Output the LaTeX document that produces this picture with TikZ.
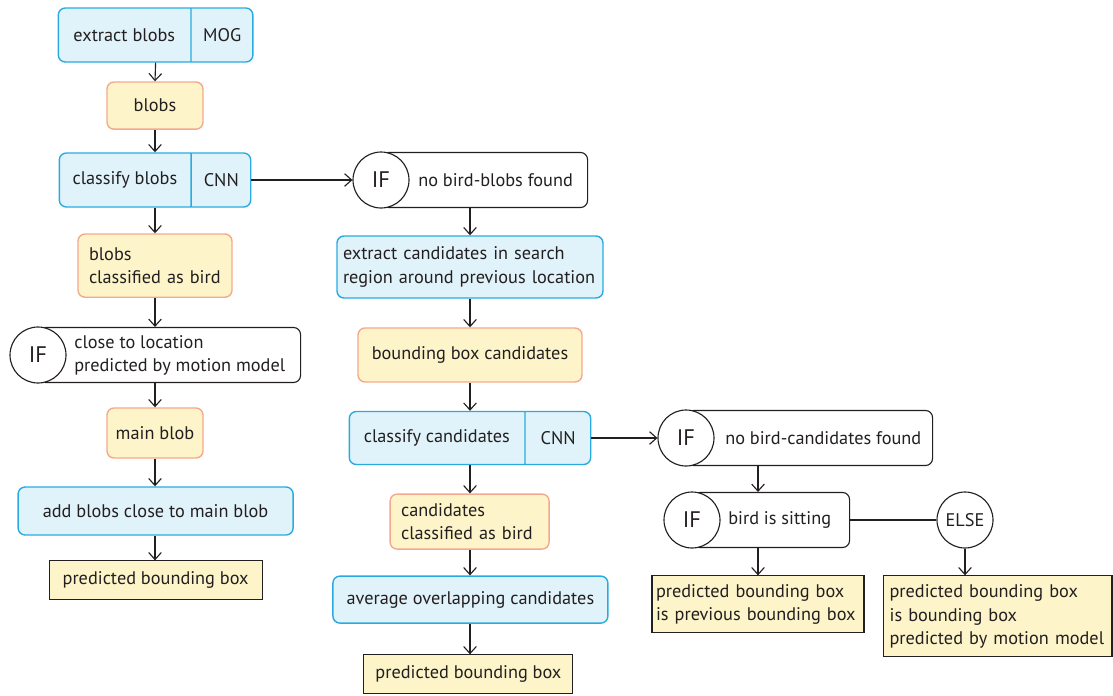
\documentclass[tikz,border=0pt]{standalone}
\usepackage{fontspec}
\setmainfont{PT Sans}
\usetikzlibrary{arrows.meta, shapes.multipart}

\definecolor{boxblue}{HTML}{E1F3FA}
\definecolor{lineblue}{HTML}{29ABE2}
\definecolor{boxyellow}{HTML}{FDF5C9}
\definecolor{linesalmon}{HTML}{F5A98C}
\definecolor{inkgray}{HTML}{231F20}

\begin{document}
\begin{tikzpicture}[font=\fontsize{13}{16.5}\selectfont, text=inkgray]
    % Definizione stili
    \tikzset{
        process/.style={
            rectangle,
            draw=lineblue,
            fill=boxblue,
            rounded corners=5pt,
            line width=1pt
        },
        splitbox/.style={
            process,
            rectangle split,
            rectangle split horizontal,
            rectangle split parts=2,
            inner xsep=0pt,
            minimum height=1.35cm
        },
        data/.style={
            rectangle,
            draw=linesalmon,
            fill=boxyellow,
            rounded corners=5pt,
            line width=1pt
        },
        outcome/.style={
            rectangle,
            draw=inkgray,
            fill=boxyellow,
            line width=0.8pt
        },
        decision/.style={
            circle,
            draw=inkgray,
            fill=white,
            line width=0.8pt,
            minimum size=1.4cm,
            inner sep=0pt,
            font=\fontsize{16}{18}\selectfont
        },
        condbox/.style={
            rectangle,
            draw=inkgray,
            rounded corners=5pt,
            line width=0.8pt,
            minimum height=1.375cm,
            anchor=west
        },
        condtext/.style={anchor=west, align=left, inner sep=0pt, xshift=#1},
        arrow/.style={-{Straight Barb[length=5pt, width=9pt]}, line width=0.8pt, draw=inkgray},
        link/.style={line width=0.8pt, draw=inkgray}
    }

    \useasboundingbox (0,0) rectangle (27.825,-17.375);

    % Colonna sinistra
    \node[splitbox] at (3.89,-0.875) (extract) {
        \makebox[3.3cm]{extract blobs}\nodepart{two}\makebox[1.53cm]{MOG}
    };
    \node[data, minimum width=2.4cm, minimum height=1.18cm] at (3.875,-2.64) (blobs) {blobs};
    \node[splitbox] at (3.875,-4.5) (classblobs) {
        \makebox[3.28cm]{classify blobs}\nodepart{two}\makebox[1.47cm]{CNN}
    };
    \node[data, align=left, text width=3.3cm, inner xsep=0.275cm, minimum height=1.58cm] at (3.875,-6.64) (blobsbird) {
        blobs\\
        classified as bird
    };
    \node[condbox, minimum width=6.55cm,
        label={[condtext=0.9cm]west:{close to location\\predicted by motion model}}] at (0.95,-8.875) (cond1) {};
    \node[decision] at (cond1.west) (if1) {IF};
    \node[data, minimum width=2.4cm, minimum height=1.25cm] at (3.875,-10.825) (mainblob) {main blob};
    \node[process, minimum width=6.875cm, minimum height=1.2cm] at (3.89,-12.775) (addblobs) {add blobs close to main blob};
    \node[outcome, minimum width=5.325cm, minimum height=0.975cm] at (3.89,-14.51) (predleft) {predicted bounding box};

    % Colonna centrale
    \node[condbox, minimum width=5.15cm,
        label={[condtext=0.925cm]west:{no bird-blobs found}}] at (9.525,-4.5) (cond2) {};
    \node[decision] at (cond2.west) (if2) {IF};
    \node[process, align=left, text width=6.35cm, inner xsep=0.15cm, minimum height=1.55cm] at (11.75,-6.675) (extcand) {
        extract candidates in search\\
        region around previous location
    };
    \node[data, minimum width=5.6cm, minimum height=1.35cm] at (11.75,-8.875) (bbcand) {bounding box candidates};
    \node[splitbox, minimum height=1.325cm] at (11.75,-10.95) (classcand) {
        \makebox[4.375cm]{classify candidates}\nodepart{two}\makebox[1.625cm]{CNN}
    };
    \node[data, align=left, text width=3.425cm, inner xsep=0.275cm, minimum height=1.375cm] at (11.74,-13.04) (candbird) {
        candidates\\
        classified as bird
    };
    \node[process, minimum width=6.875cm, minimum height=1.175cm] at (11.76,-14.99) (avgcand) {average overlapping candidates};
    \node[outcome, minimum width=5.225cm, minimum height=0.975cm] at (11.71,-16.86) (predmid) {predicted bounding box};

    % Colonna destra
    \node[condbox, minimum width=6.15cm,
        label={[condtext=0.975cm]west:{no bird-candidates found}}] at (17.15,-10.95) (cond3) {};
    \node[decision] at (cond3.west) (if3) {IF};
    \node[condbox, minimum width=3.925cm,
        label={[condtext=0.9cm]west:{bird is sitting}}] at (17.3,-13.0) (cond4) {};
    \node[decision] at (cond4.west) (if4) {IF};
    \node[decision, font=\fontsize{13}{16}\selectfont] at (24.125,-13.0) (else) {ELSE};
    \node[outcome, align=left, text width=5.1cm, inner xsep=0.1cm, minimum height=1.425cm] at (18.95,-15.11) (predsit) {
        predicted bounding box\\
        is previous bounding box
    };
    \node[outcome, align=left, text width=5.4cm, inner xsep=0.16cm, minimum height=2.025cm] at (24.94,-15.41) (predmotion) {
        predicted bounding box\\
        is bounding box\\
        predicted by motion model
    };

    % Frecce colonna sinistra
    \draw[arrow] (extract.south) -- (blobs.north);
    \draw[arrow] (blobs.south) -- (blobs.south |- classblobs.north);
    \draw[arrow] (blobs.south |- classblobs.south) -- (blobsbird.north);
    \draw[arrow] (blobsbird.south) -- (blobsbird.south |- cond1.north);
    \draw[arrow] (blobsbird.south |- cond1.south) -- (mainblob.north);
    \draw[arrow] (mainblob.south) -- (mainblob.south |- addblobs.north);
    \draw[arrow] (mainblob.south |- addblobs.south) -- (mainblob.south |- predleft.north);

    % Frecce colonna centrale
    \draw[arrow] (classblobs.east) -- (if2.west);
    \draw[arrow] (extcand.north |- cond2.south) -- (extcand.north);
    \draw[arrow] (extcand.south) -- (bbcand.north);
    \draw[arrow] (bbcand.south) -- (bbcand.south |- classcand.north);
    \draw[arrow] (bbcand.south |- classcand.south) -- (bbcand.south |- candbird.north);
    \draw[arrow] (bbcand.south |- candbird.south) -- (bbcand.south |- avgcand.north);
    \draw[arrow] (bbcand.south |- avgcand.south) -- (bbcand.south |- predmid.north);

    % Frecce colonna destra
    \draw[arrow] (classcand.east) -- (if3.west);
    \draw[arrow] (predsit.north |- cond3.south) -- (predsit.north |- cond4.north);
    \draw[arrow] (predsit.north |- cond4.south) -- (predsit.north);
    \draw[link] (cond4.east) -- (else.west);
    \draw[arrow] (else.south) -- (else.south |- predmotion.north);

\end{tikzpicture}
\end{document}
